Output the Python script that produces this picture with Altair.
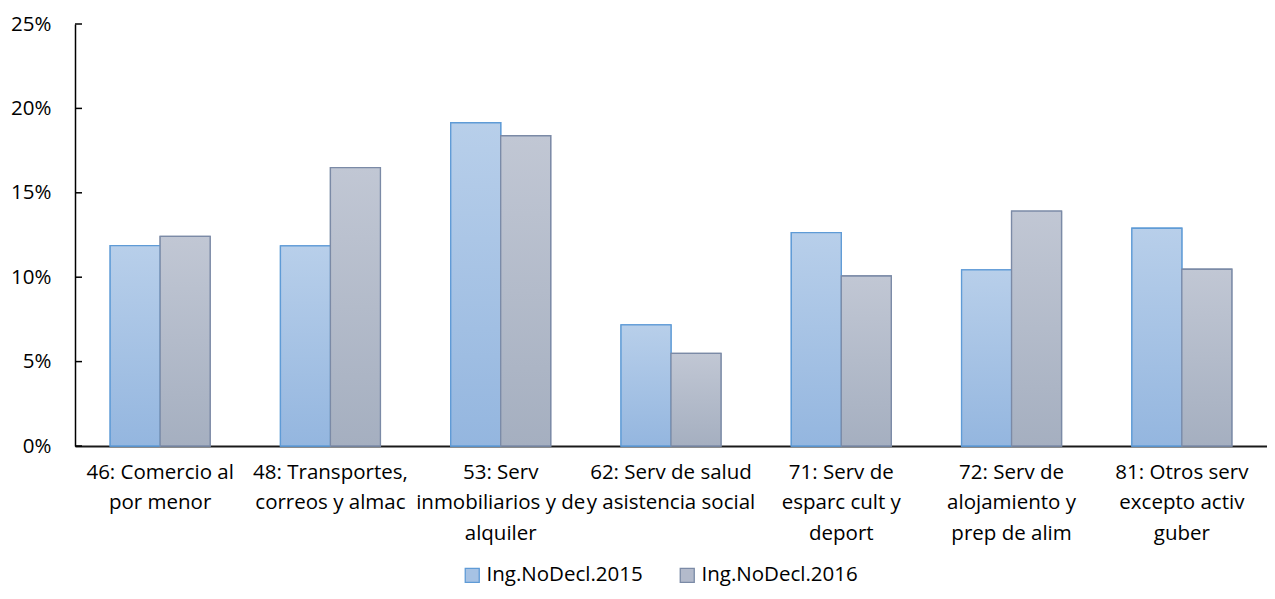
import altair as alt
import pandas as pd

categories = [
    "46: Comercio al|por menor",
    "48: Transportes,|correos y almac",
    "53: Serv|inmobiliarios y de|alquiler",
    "62: Serv de salud|y asistencia social",
    "71: Serv de|esparc cult y|deport",
    "72: Serv de|alojamiento y|prep de alim",
    "81: Otros serv|excepto activ|guber",
]
series = ["Ing.NoDecl.2015", "Ing.NoDecl.2016"]
values_2015 = [0.1187, 0.1185, 0.1915, 0.0717, 0.1264, 0.1043, 0.1290]
values_2016 = [0.1242, 0.1649, 0.1838, 0.0549, 0.1007, 0.1392, 0.1047]
y_ticks = [0, 0.05, 0.10, 0.15, 0.20, 0.25]

rows = []
for c, a, b in zip(categories, values_2015, values_2016):
    rows.append({"cat": c, "series": series[0], "value": a})
    rows.append({"cat": c, "series": series[1], "value": b})
df = pd.DataFrame(rows)
ticks_df = pd.DataFrame({"t": y_ticks})

FONT = "Open Sans"
FS = 20.5
mid_colors = ["#a6c2e4", "#b3bacb"]
stroke_colors = ["#5f9bd6", "#7b8aa6"]

def grad(top, bottom):
    return alt.Gradient(
        gradient="linear",
        stops=[alt.GradientStop(color=top, offset=0), alt.GradientStop(color=bottom, offset=1)],
        x1=0, x2=0, y1=0, y2=1,
    )

x_enc = alt.X(
    "cat:N", sort=categories, title=None,
    scale=alt.Scale(paddingInner=0.413, paddingOuter=0.2065),
    axis=alt.Axis(
        labelExpr="split(datum.value, '|')", labelAngle=0, labelFontSize=FS,
        labelLineHeight=30.5, labelPadding=16, labelLimit=0, labelOverlap=False,
        labelColor="#000000", labelFont=FONT, ticks=False, tickSize=0,
        domainColor="#1a1a1a", domainWidth=2, grid=False,
    ),
)
xoff_enc = alt.XOffset("series:N", sort=series, scale=alt.Scale(paddingInner=0, paddingOuter=0))
y_enc = alt.Y(
    "value:Q", title=None,
    scale=alt.Scale(domain=[0, 0.25], nice=False),
    axis=alt.Axis(
        values=y_ticks, format=".0%", labelFontSize=FS, labelFont=FONT,
        labelColor="#000000", labelPadding=24, ticks=False, tickSize=0,
        domainColor="#000000", domainWidth=1.5, grid=False,
    ),
)

base = alt.Chart(df)

legend_layer = base.mark_bar(strokeWidth=1.3).encode(
    x=x_enc, xOffset=xoff_enc, y=y_enc,
    fill=alt.Fill(
        "series:N", sort=series,
        scale=alt.Scale(domain=series, range=mid_colors),
        legend=alt.Legend(
            title=None, orient="none", direction="horizontal",
            legendX=387, legendY=541, symbolType="square", symbolSize=196,
            symbolStrokeWidth=1.3, labelFontSize=FS, labelFont=FONT,
            labelColor="#000000", columnPadding=34, labelOffset=4, padding=0,
        ),
    ),
    stroke=alt.Stroke("series:N", sort=series, scale=alt.Scale(domain=series, range=stroke_colors)),
)

over_2015 = base.transform_filter(alt.datum.series == series[0]).mark_bar(
    fill=grad("#b8cfea", "#94b6df"), stroke=stroke_colors[0], strokeWidth=1.3
).encode(x=x_enc, xOffset=xoff_enc, y=y_enc)

over_2016 = base.transform_filter(alt.datum.series == series[1]).mark_bar(
    fill=grad("#c1c7d4", "#a5afc0"), stroke=stroke_colors[1], strokeWidth=1.3
).encode(x=x_enc, xOffset=xoff_enc, y=y_enc)

tick_layer = alt.Chart(ticks_df).mark_rule(color="#000000", strokeWidth=1.5).encode(
    x=alt.value(0), x2=alt.value(7), y=alt.Y("t:Q")
)

chart = alt.layer(legend_layer, over_2015, over_2016, tick_layer).properties(
    width=1192, height=422,
    autosize=alt.AutoSizeParams(type="none"),
    padding={"left": 67, "top": 16, "right": 0, "bottom": 141},
).configure(font=FONT, view=alt.ViewConfig(stroke=None))

chart.save("out.html", embed_options={"renderer": "svg", "actions": False})
